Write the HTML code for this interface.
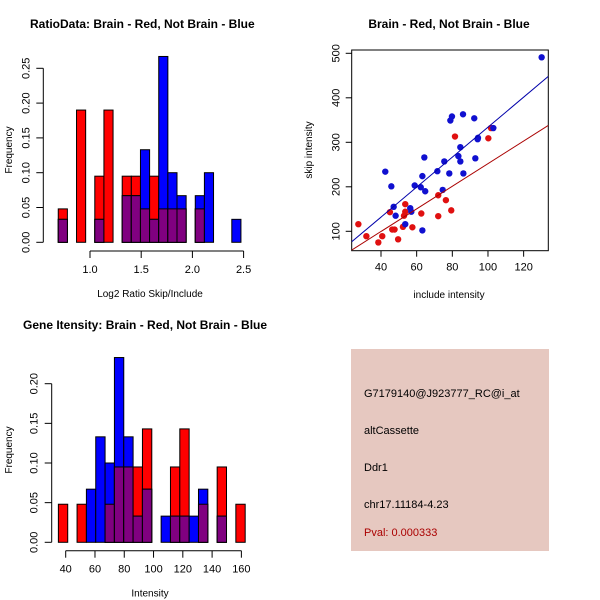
<!DOCTYPE html>
<html><head><meta charset="utf-8"><style>
body{margin:0;background:#fff;}
svg{display:block;font-family:"Liberation Sans",sans-serif;}
</style></head><body>
<svg id="c" width="600" height="600" viewBox="0 0 600 600">
<rect x="0" y="0" width="600" height="600" fill="#fff"/>
<rect x="351" y="349" width="198" height="202" fill="#e6c8c0"/>
<g font-size="11" fill="#000">
<text x="364" y="397">G7179140@J923777_RC@i_at</text>
<text x="364" y="434">altCassette</text>
<text x="364" y="471">Ddr1</text>
<text x="364" y="508">chr17.11184-4.23</text>
<text x="364" y="536" fill="#aa0000">Pval: 0.000333</text>
</g>
</svg>
<script>
// ---- Ratio histogram data ----
const ratioBins=[0,2,4,5,7,8,9,10,11,12,13,15,16,19];
const ratioRed=[0.048,0.19,0.095,0.19,0.095,0.095,0.048,0.095,0.048,0.048,0.048,0.048,0,0];
const ratioBlue=[0.033,0,0.033,0,0.067,0.067,0.133,0.033,0.267,0.1,0.067,0.067,0.1,0.033];
const ratioXTicks=[1.0,1.5,2.0,2.5];
const ratioYTicks=[0,0.05,0.10,0.15,0.20,0.25];
// ---- Intensity histogram data ----
const intBins=[0,2,3,4,5,6,7,8,9,11,12,13,14,15,17,19];
const intRed=[0.048,0.048,0,0,0.048,0.095,0.095,0.095,0.143,0,0.095,0.143,0,0.048,0.095,0.048];
const intBlue=[0,0,0.067,0.133,0.1,0.233,0.133,0.033,0.067,0.033,0.033,0.033,0.033,0.067,0.033,0];
const intXTicks=[40,60,80,100,120,140,160];
const intYTicks=[0,0.05,0.10,0.15,0.20];
// ---- Scatter data ----
const blueX=[130.1,42.4,45.8,47.1,48.2,53.6,56.4,57.0,58.9,62.3,63.2,64.8,64.3,63.2,71.6,75.5,78.3,74.6,78.9,79.8,86.0,83.4,84.5,84.5,86.2,92.3,92.9,94.2,94.4,103];
const blueY=[491,234,201,155,135,116,152,144,203,199,224,190,266,102,235,257,230,193,349,358,363,269,289,257,230,354,264,307,310,332];
const redX=[27.3,31.8,38.5,40.7,45.0,46.3,47.6,49.6,52.3,52.9,53.6,53.6,57.6,62.6,72.1,72.1,76.4,79.4,81.5,100.2,101.7];
const redY=[116,89,75,89,143,104,104,82,110,135,161,144,109,140,134,181,170,147,313,309,332];
const blueFit=[-3,3.37]; // intercept, slope
const redFit=[-2,2.54];
const scXTicks=[40,60,80,100,120];
const scYTicks=[100,200,300,400,500];

const NS="http://www.w3.org/2000/svg";
const svg=document.getElementById('c');
function mk(tag,attrs,parent){const e=document.createElementNS(NS,tag);for(const k in attrs)e.setAttribute(k,attrs[k]);(parent||svg).appendChild(e);return e;}
function txt(s,attrs,parent){const e=mk('text',attrs,parent);e.textContent=s;return e;}

function hist(o){
  const g=mk('g',{});
  
  
  const X=v=>o.x0+(v-o.v0)*o.sx, Y=v=>o.y0-v*o.sy;
  const bx=i=>X(o.b0+i*o.bw);
  const w=o.bw*o.sx;
  o.bins.forEach((b,i)=>{
    const r=o.red[i], bl=o.blue[i], m=Math.min(r,bl);
    if(r>0){const e=mk('rect',{x:bx(b),y:Y(r),width:w,height:Y(0)-Y(r),fill:'#ff0000',stroke:'#000','stroke-width':1},g);
      }
    if(bl>0){const e=mk('rect',{x:bx(b),y:Y(bl),width:w,height:Y(0)-Y(bl),fill:'#0000ff',stroke:'#000','stroke-width':1},g);
      }
    if(m>0){const e=mk('rect',{x:bx(b),y:Y(m),width:w,height:Y(0)-Y(m),fill:'#800080',stroke:'#000','stroke-width':1},g);
      }
  });
  // y axis
  const ya=mk('g',{},g);
  const yt=o.yticks;
  mk('line',{x1:o.axX,x2:o.axX,y1:Y(yt[0]),y2:Y(yt[yt.length-1]),stroke:'#000'},ya);
  yt.forEach(t=>{mk('line',{x1:o.axX-7,x2:o.axX,y1:Y(t),y2:Y(t),stroke:'#000'},ya);
    const tx=o.axX-14;txt(t.toFixed(2),{x:tx,y:Y(t),transform:`rotate(-90 ${tx} ${Y(t)})`,'text-anchor':'middle','font-size':11},ya);});
  // x axis
  const xa=mk('g',{},g);
  const xt=o.xticks;
  mk('line',{x1:X(xt[0]),x2:X(xt[xt.length-1]),y1:o.axY,y2:o.axY,stroke:'#000'},xa);
  xt.forEach(t=>{mk('line',{x1:X(t),x2:X(t),y1:o.axY,y2:o.axY+7,stroke:'#000'},xa);
    txt(o.fmt(t),{x:X(t),y:o.axY+22,'text-anchor':'middle','font-size':11},xa);});
  const tt=txt(o.title,{x:o.titleX,y:o.titleY,'font-size':12,'font-weight':'bold'},g);
  
  const xl=txt(o.xlab,{x:o.xlabX,y:o.axY+46,'text-anchor':'middle','font-size':10},g);
  
  const yx=12,yy=o.ylabY;
  const yl=txt('Frequency',{x:yx,y:yy,transform:`rotate(-90 ${yx} ${yy})`,'text-anchor':'middle','font-size':10},g);
  
}

hist({name:'ratio-histogram',x0:90,v0:1.0,sx:102.4,y0:242.3,sy:696,b0:0.69,bw:0.0892,
  bins:ratioBins,red:ratioRed,blue:ratioBlue,yticks:ratioYTicks,xticks:ratioXTicks,
  axX:43.3,axY:251,fmt:t=>t.toFixed(1),title:'RatioData: Brain - Red, Not Brain - Blue',titleX:30,titleY:28,
  xlab:'Log2 Ratio Skip/Include',xlabX:150,ylabY:150});
hist({name:'intensity-histogram',x0:65.7,v0:40,sx:1.464,y0:542.3,sy:793,b0:35,bw:6.38,
  bins:intBins,red:intRed,blue:intBlue,yticks:intYTicks,xticks:intXTicks,
  axX:51.7,axY:550.7,fmt:t=>String(t),title:'Gene Itensity: Brain - Red, Not Brain - Blue',titleX:23,titleY:329,
  xlab:'Intensity',xlabX:150,ylabY:450});

// scatter
(function(){
  const g=mk('g',{});
  
  
  const X=v=>381+(v-40)*1.783, Y=v=>231.3-(v-100)*0.445;
  const L=351.7,R=548.3,T=50,B=250.7;
  const fr=mk('rect',{x:L,y:T,width:R-L,height:B-T,fill:'none',stroke:'#000'},g);
  
  const vx=px=>40+(px-381)/1.783;
  const clip=mk('clipPath',{id:'sc'},g);mk('rect',{x:L,y:T,width:R-L,height:B-T},clip);
  const ptsR=mk('g',{},g);
  redX.forEach((x,i)=>{const c=mk('circle',{cx:X(x),cy:Y(redY[i]),r:3.2,fill:'#e01010'},ptsR);
    });
  const ptsB=mk('g',{},g);
  blueX.forEach((x,i)=>{const c=mk('circle',{cx:X(x),cy:Y(blueY[i]),r:3.2,fill:'#1010d0'},ptsB);
    });
  const lg=mk('g',{'clip-path':'url(#sc)'},g);
  const a=vx(L),b=vx(R);
  const bl=mk('line',{x1:L,y1:Y(blueFit[0]+blueFit[1]*a),x2:R,y2:Y(blueFit[0]+blueFit[1]*b),stroke:'#0000aa','stroke-width':1},lg);
  
  const rl=mk('line',{x1:L,y1:Y(redFit[0]+redFit[1]*a),x2:R,y2:Y(redFit[0]+redFit[1]*b),stroke:'#aa0000','stroke-width':1},lg);
  
  const xa=mk('g',{},g);
  scXTicks.forEach(t=>{mk('line',{x1:X(t),x2:X(t),y1:B,y2:B+6,stroke:'#000'},xa);
    txt(String(t),{x:X(t),y:B+20,'text-anchor':'middle','font-size':11},xa);});
  const ya=mk('g',{},g);
  scYTicks.forEach(t=>{mk('line',{x1:L-6,x2:L,y1:Y(t),y2:Y(t),stroke:'#000'},ya);
    const tx=L-12;txt(String(t),{x:tx,y:Y(t),transform:`rotate(-90 ${tx} ${Y(t)})`,'text-anchor':'middle','font-size':11},ya);});
  const tt=txt('Brain - Red, Not Brain - Blue',{x:449,y:28,'text-anchor':'middle','font-size':12,'font-weight':'bold'},g);
  
  const xl=txt('include intensity',{x:449,y:298,'text-anchor':'middle','font-size':10},g);
  
  const yl=txt('skip intensity',{x:312,y:150,transform:'rotate(-90 312 150)','text-anchor':'middle','font-size':10},g);
  
})();
</script>
</body></html>
